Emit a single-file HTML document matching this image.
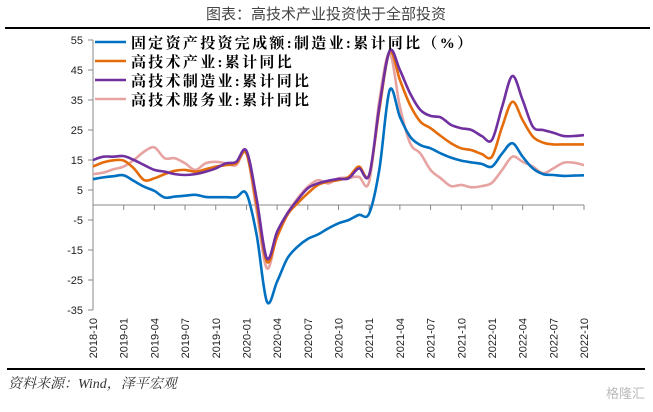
<!DOCTYPE html>
<html><head><meta charset="utf-8">
<style>
body{margin:0;background:#fff;}
#wrap{position:relative;width:653px;height:412px;overflow:hidden;background:#fff;font-family:"Liberation Sans","Noto Sans CJK SC",sans-serif;}
</style></head>
<body>
<div id="wrap">
<svg id="chart" width="653" height="412">
  <text x="326" y="19" text-anchor="middle" font-size="15" fill="#444" font-family="'Liberation Sans','Noto Sans CJK SC',sans-serif">图表：高技术产业投资快于全部投资</text>
  <line x1="5" y1="28" x2="650" y2="28" stroke="#000" stroke-width="2"/>
  <line x1="7" y1="369" x2="645" y2="369" stroke="#000" stroke-width="2"/>
  <text x="8" y="388" font-size="14" font-style="italic" fill="#333" font-family="'Liberation Serif','Noto Serif CJK SC',serif">资料来源：Wind，泽平宏观</text>
  <text x="645" y="398" text-anchor="end" font-size="13" fill="#bbb" font-family="'Liberation Sans','Noto Sans CJK SC',sans-serif">格隆汇</text>
  <g id="axes"></g>
  <g id="series"></g>
  <g id="legend"></g>
</svg>
</div>
<script>
const categories = ['2018-10','2018-11','2018-12','2019-01','2019-02','2019-03','2019-04','2019-05','2019-06','2019-07','2019-08','2019-09','2019-10','2019-11','2019-12','2020-01','2020-02','2020-03','2020-04','2020-05','2020-06','2020-07','2020-08','2020-09','2020-10','2020-11','2020-12','2021-01','2021-02','2021-03','2021-04','2021-05','2021-06','2021-07','2021-08','2021-09','2021-10','2021-11','2021-12','2022-01','2022-02','2022-03','2022-04','2022-05','2022-06','2022-07','2022-08','2022-09','2022-10'];
const fixedAssetMfg = [8.6,9.2,9.6,9.9,8,6.1,4.7,2.5,2.8,3.1,3.4,2.7,2.6,2.6,2.6,3.8,-10,-32.2,-25.5,-17.8,-13.9,-11.3,-9.8,-7.8,-6.1,-5,-3.3,-2.8,12,38.3,29.4,22.8,20,18.9,17.2,15.8,14.8,14.2,13.7,12.8,17.2,20.6,16.1,12.2,10.3,10,9.7,9.8,9.9];
const highTechIndustry = [12.8,14.2,14.9,14.8,12.2,8.3,8.9,10.3,11.4,11.7,11.1,11.9,12.8,13.3,13.9,17.2,0,-18.9,-10.6,-3.3,0.6,3.9,6.7,7.8,8.3,9.4,12.8,10,32,51.1,41.7,33.3,27.8,25.6,23,20.6,18.9,18.3,17,16.1,26.1,34.4,28.3,22.8,20.8,20.2,20.2,20.2,20.2];
const highTechMfg = [15,16.1,16.1,16.3,15,13.3,11.7,11.1,10.3,10,10.3,11.1,12.2,13.9,14.4,18.1,2,-17.8,-8.9,-2.8,1.7,5.6,7.2,8.1,8.7,8.9,12.2,10,33,51.4,45,37.2,31.7,29.7,29.2,26.7,25.6,25,23,21.7,32.8,43,35,26.1,25,24.1,23,23,23.3];
const highTechService = [10.3,10.8,11.9,12.8,15,17.8,19.2,15.6,15.6,13.9,11.7,13.9,14.4,13.9,13.3,17.2,-2,-21.1,-10,-2.8,2.2,6.1,8.3,7.2,8.9,9.1,9.4,7.8,35,50.5,32.8,20.6,17.2,11.7,8.9,6.3,6.7,5.9,6.3,7.4,11.7,16.1,14.4,12.8,10.6,12.2,14.1,14.1,13.3];
const yTicks = [55,45,35,25,15,5,-5,-15,-25,-35];
const seriesNames = ['固定资产投资完成额:制造业:累计同比（%）','高技术产业:累计同比','高技术制造业:累计同比','高技术服务业:累计同比'];

const NS='http://www.w3.org/2000/svg';
const X0=93, X1=584, YTOP=40, YBOT=310, VMAX=55, VMIN=-35;
const xScale = i => X0 + (X1-X0)*i/(categories.length-1);
const yScale = v => YTOP + (VMAX-v)/(VMAX-VMIN)*(YBOT-YTOP);
function mk(tag, attrs, parent){const e=document.createElementNS(NS,tag);for(const k in attrs)e.setAttribute(k,attrs[k]);parent.appendChild(e);return e;}
const axes=document.getElementById('axes');
const yAxis=mk('line',{x1:X0,y1:YTOP,x2:X0,y2:YBOT,stroke:'#888','stroke-width':1},axes);


yTicks.forEach(v=>{
  const y=yScale(v);
  const t=mk('line',{x1:X0-5,y1:y,x2:X0,y2:y,stroke:'#888','stroke-width':1},axes);
  
  
  const l=mk('text',{x:X0-10,y:y+4,'text-anchor':'end','font-size':11,fill:'#222'},axes);
  l.textContent=v;
  
  
});
const zy=yScale(0);
const xAxis=mk('line',{x1:X0,y1:zy,x2:X1,y2:zy,stroke:'#888','stroke-width':1},axes);


categories.forEach((c,i)=>{
  if(i%3!==0)return;
  const x=xScale(i);
  const t=mk('line',{x1:x,y1:zy,x2:x,y2:zy+5,stroke:'#888','stroke-width':1},axes);
  
  
  const l=mk('text',{x:0,y:0,'text-anchor':'end','font-size':11,fill:'#222',transform:`translate(${x+4},318) rotate(-90)`},axes);
  l.textContent=c;
  
  
});
function smoothPath(vals){
  const p=vals.map((v,i)=>[xScale(i),yScale(v)]);
  let d=`M${p[0][0]},${p[0][1]}`;
  for(let i=0;i<p.length-1;i++){
    const a=p[i-1]||p[i],b=p[i],c=p[i+1],e=p[i+2]||c,k=6;
    d+=` C${b[0]+(c[0]-a[0])/k},${b[1]+(c[1]-a[1])/k} ${c[0]-(e[0]-b[0])/k},${c[1]-(e[1]-b[1])/k} ${c[0]},${c[1]}`;
  }
  return d;
}
const colors=['#0070C0','#E46C0A','#7030A0','#E6A3A1'];
const data=[fixedAssetMfg,highTechIndustry,highTechMfg,highTechService];
const seriesKeys=['fixed-asset-mfg','high-tech-industry','high-tech-mfg','high-tech-service'];
const sg=document.getElementById('series');
[3,1,2,0].forEach(s=>{
  const p=mk('path',{d:smoothPath(data[s]),fill:'none',stroke:colors[s],'stroke-width':2.6,'stroke-linejoin':'round'},sg);
  
  
});
const lg=document.getElementById('legend');
seriesNames.forEach((n,i)=>{
  const y=42+i*19;
  const g=mk('g',{},lg);
  
  
  mk('line',{x1:95,y1:y,x2:126,y2:y,stroke:colors[i],'stroke-width':2.6},g);
  const t=mk('text',{x:131,y:y+6,'font-size':15,'font-weight':'bold','letter-spacing':2.3,fill:'#000','font-family':"'Liberation Serif','Noto Serif CJK SC',serif"},g);
  t.textContent=n;
});
</script>
</body></html>
